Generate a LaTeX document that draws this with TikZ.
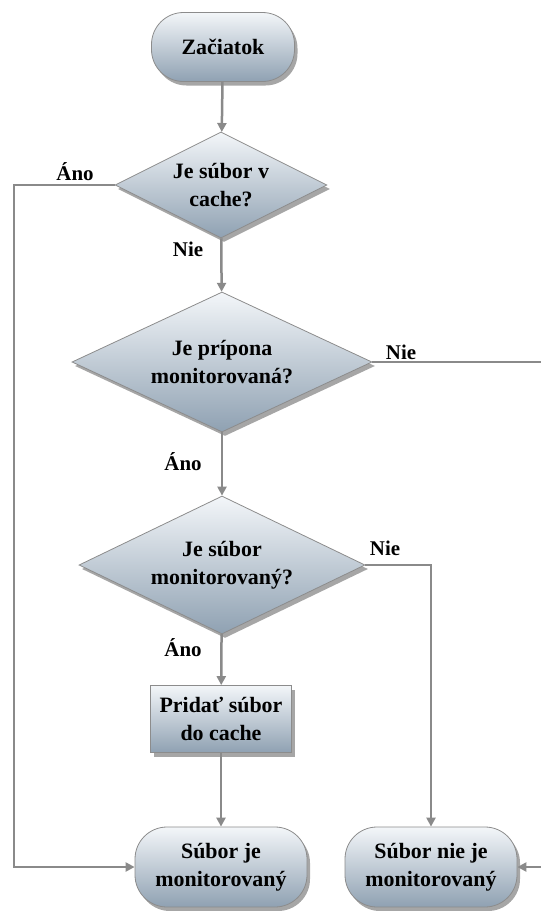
\documentclass[tikz,border=0pt]{standalone}
\usepackage{fontspec}
\setmainfont{Liberation Serif}
\usetikzlibrary{shapes.geometric,arrows.meta,shadows}
\definecolor{boxtop}{HTML}{F3F6F9}
\definecolor{boxbottom}{HTML}{8FA1B2}
\definecolor{boxline}{HTML}{8C8C8C}
\definecolor{flowgray}{HTML}{8A8A8A}
\begin{document}
\begin{tikzpicture}[x=1bp,y=-1bp,
        shape base/.style={draw=boxline,line width=0.8bp,top color=boxtop,bottom color=boxbottom,
            drop shadow={shadow xshift=3bp,shadow yshift=-4bp,fill=black,opacity=0.35},
            align=center,inner sep=0pt,font=\fontsize{22}{28}\selectfont\bfseries},
        term/.style={shape base,rectangle,rounded corners=32bp},
        decision/.style={shape base,diamond,aspect=2},
        action/.style={shape base,rectangle},
        flow/.style={draw=flowgray,line width=2.5bp,-{Triangle[length=9bp,width=9bp]}},
        lbl/.style={font=\fontsize{21}{25}\selectfont\bfseries}]
        \path[use as bounding box,clip] (0,0) rectangle (541,911);
        % nodes
        \node[term,minimum width=143bp,minimum height=69bp] (start) at (223,47) {Začiatok};
        \node[decision,minimum width=212bp,minimum height=106bp] (cache) at (221,185) {Je súbor v\\cache?};
        \node[decision,minimum width=300bp,minimum height=140bp] (ext) at (222,362) {Je prípona\\monitorovaná?};
        \node[decision,minimum width=286bp,minimum height=138bp] (mon) at (222,565) {Je súbor\\monitorovaný?};
        \node[action,minimum width=141bp,minimum height=67bp] (add) at (221,719) {Pridať súbor\\do cache};
        \node[term,minimum width=172bp,minimum height=80bp] (yes) at (221,867) {Súbor je\\monitorovaný};
        \node[term,minimum width=172bp,minimum height=80bp] (no) at (431,867) {Súbor nie je\\monitorovaný};
        % connectors
        \draw[flow] (start) -- (cache);
        \draw[flow] (cache.west) -- (14,185) |- (yes.west);
        \draw[flow] (cache) -- (ext);
        \draw[flow] (ext.east) -- ++(200,0) |- (no.east);
        \draw[flow] (ext) -- (mon);
        \draw[flow] (mon.east) -| (no.north);
        \draw[flow] (mon) -- (add);
        \draw[flow] (add) -- (yes);
        % labels
        \node[lbl] (ano1) at (75,172) {Áno};
        \node[lbl] (nie1) at (188,249) {Nie};
        \node[lbl] (nie2) at (401,352) {Nie};
        \node[lbl] (ano2) at (183,462) {Áno};
        \node[lbl] (nie3) at (385,548) {Nie};
        \node[lbl] (ano3) at (183,648) {Áno};
    \end{tikzpicture}
\end{document}
